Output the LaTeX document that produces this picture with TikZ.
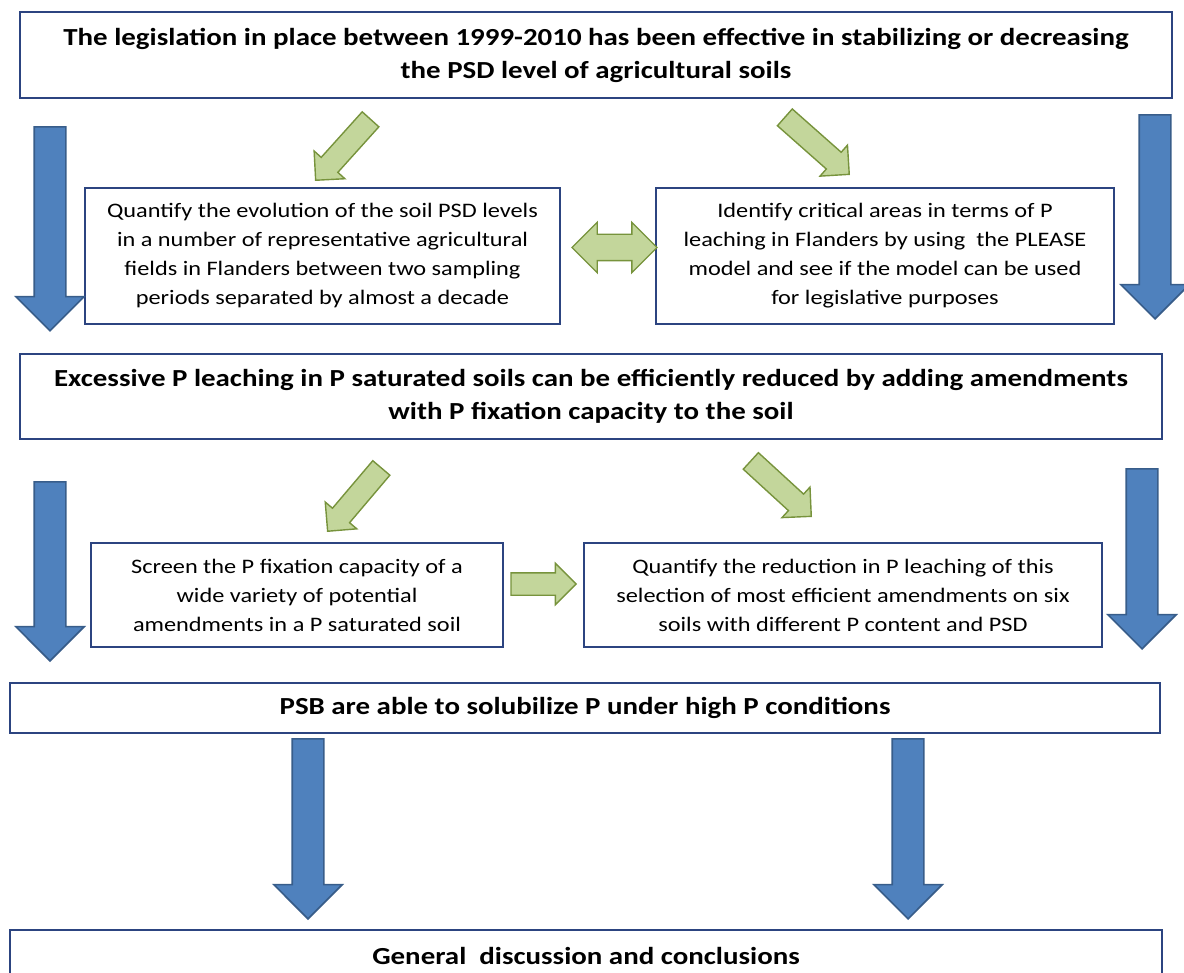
\documentclass[tikz,border=0pt]{standalone}
\usepackage{fontspec}
\setmainfont{Carlito}[FakeStretch=1.18]
\usepackage{xcolor}
\usetikzlibrary{shapes.arrows}

\definecolor{boxline}{RGB}{44,68,128}
\definecolor{flowfill}{RGB}{79,129,189}
\definecolor{flowline}{RGB}{56,93,138}
\definecolor{linkfill}{RGB}{195,214,155}
\definecolor{linkline}{RGB}{119,147,60}

\begin{document}
\begin{tikzpicture}[x=1pt, y=-1pt]
  % Styles
  \tikzstyle{hyp}=[draw=boxline, line width=1.4pt, align=center, inner sep=0pt, font=\fontsize{24.5}{33}\selectfont\bfseries]
  \tikzstyle{task}=[draw=boxline, line width=1.2pt, align=center, inner sep=0pt, font=\fontsize{20.6}{29}\selectfont]
  \tikzstyle{flow}=[single arrow, draw=flowline, line width=1.6pt, fill=flowfill, inner xsep=0pt, inner ysep=15pt, single arrow head extend=18.5pt, anchor=tip]
  \tikzstyle{link}=[single arrow, draw=linkline, line width=1.4pt, fill=linkfill, inner xsep=0pt, inner ysep=10.5pt, single arrow head extend=9.5pt, anchor=tip]

  \useasboundingbox (0,0) rectangle (1184,973);
  \clip (0,0) rectangle (1184,973);

  % First hypothesis and its two studies
  \node[hyp, minimum width=1152pt, minimum height=86pt] (legis) at (596,55)
    {The legislation in place between 1999-2010 has been effective in stabilizing or decreasing\\the PSD level of agricultural soils};
  \node[task, minimum width=475pt, minimum height=136pt] (quant) at (322.5,256)
    {Quantify the evolution of the soil PSD levels\\in a number of representative agricultural\\fields in Flanders between two sampling\\periods separated by almost a decade};
  \node[task, minimum width=458pt, minimum height=136pt] (crit) at (885,256)
    {Identify critical areas in terms of P\\leaching in Flanders by using\ \ the PLEASE\\model and see if the model can be used\\for legislative purposes};

  \node[link, minimum height=82pt, rotate=228] (l1) at (315,181) {};
  \node[link, minimum height=86pt, rotate=-41.5] (l2) at (850,175) {};
  \node[double arrow, draw=linkline, line width=1.4pt, fill=linkfill, inner xsep=0pt, inner ysep=12.5pt,
        double arrow head extend=12pt, minimum height=85pt] (l3) at (614.5,247.5) {};

  \node[flow, minimum height=204pt, rotate=-90] (d1) at (50,332) {};
  \node[flow, minimum height=204pt, rotate=-90] (d2) at (1155,320) {};

  % Second hypothesis and its two studies
  \node[hyp, minimum width=1142pt, minimum height=85pt] (excess) at (591,396.5)
    {Excessive P leaching in P saturated soils can be efficiently reduced by adding amendments\\with P fixation capacity to the soil};
  \node[task, minimum width=412pt, minimum height=104pt] (screen) at (297,595)
    {Screen the P fixation capacity of a\\wide variety of potential\\amendments in a P saturated soil};
  \node[task, minimum width=518pt, minimum height=104pt] (reduce) at (843,595)
    {Quantify the reduction in P leaching of this\\selection of most efficient amendments on six\\soils with different P content and PSD};

  \node[link, minimum height=83pt, rotate=229.7] (l4) at (327,532) {};
  \node[link, minimum height=82pt, rotate=-42.5] (l5) at (812,517) {};
  \node[link, minimum height=65pt, rotate=0] (l6) at (577,584) {};

  \node[flow, minimum height=179pt, rotate=-90] (d3) at (50,662) {};
  \node[flow, minimum height=180pt, rotate=-90] (d4) at (1142,650) {};

  % Third hypothesis
  \node[hyp, minimum width=1150pt, minimum height=50pt] (psb) at (585,708)
    {PSB are able to solubilize P under high P conditions};

  \node[flow, minimum height=180pt, rotate=-90] (d5) at (308,920) {};
  \node[flow, minimum height=180pt, rotate=-90] (d6) at (908,920) {};

  % Conclusions
  \node[hyp, minimum width=1152pt, minimum height=52pt] (concl) at (586,956)
    {General\ \ discussion and conclusions};
\end{tikzpicture}
\end{document}
